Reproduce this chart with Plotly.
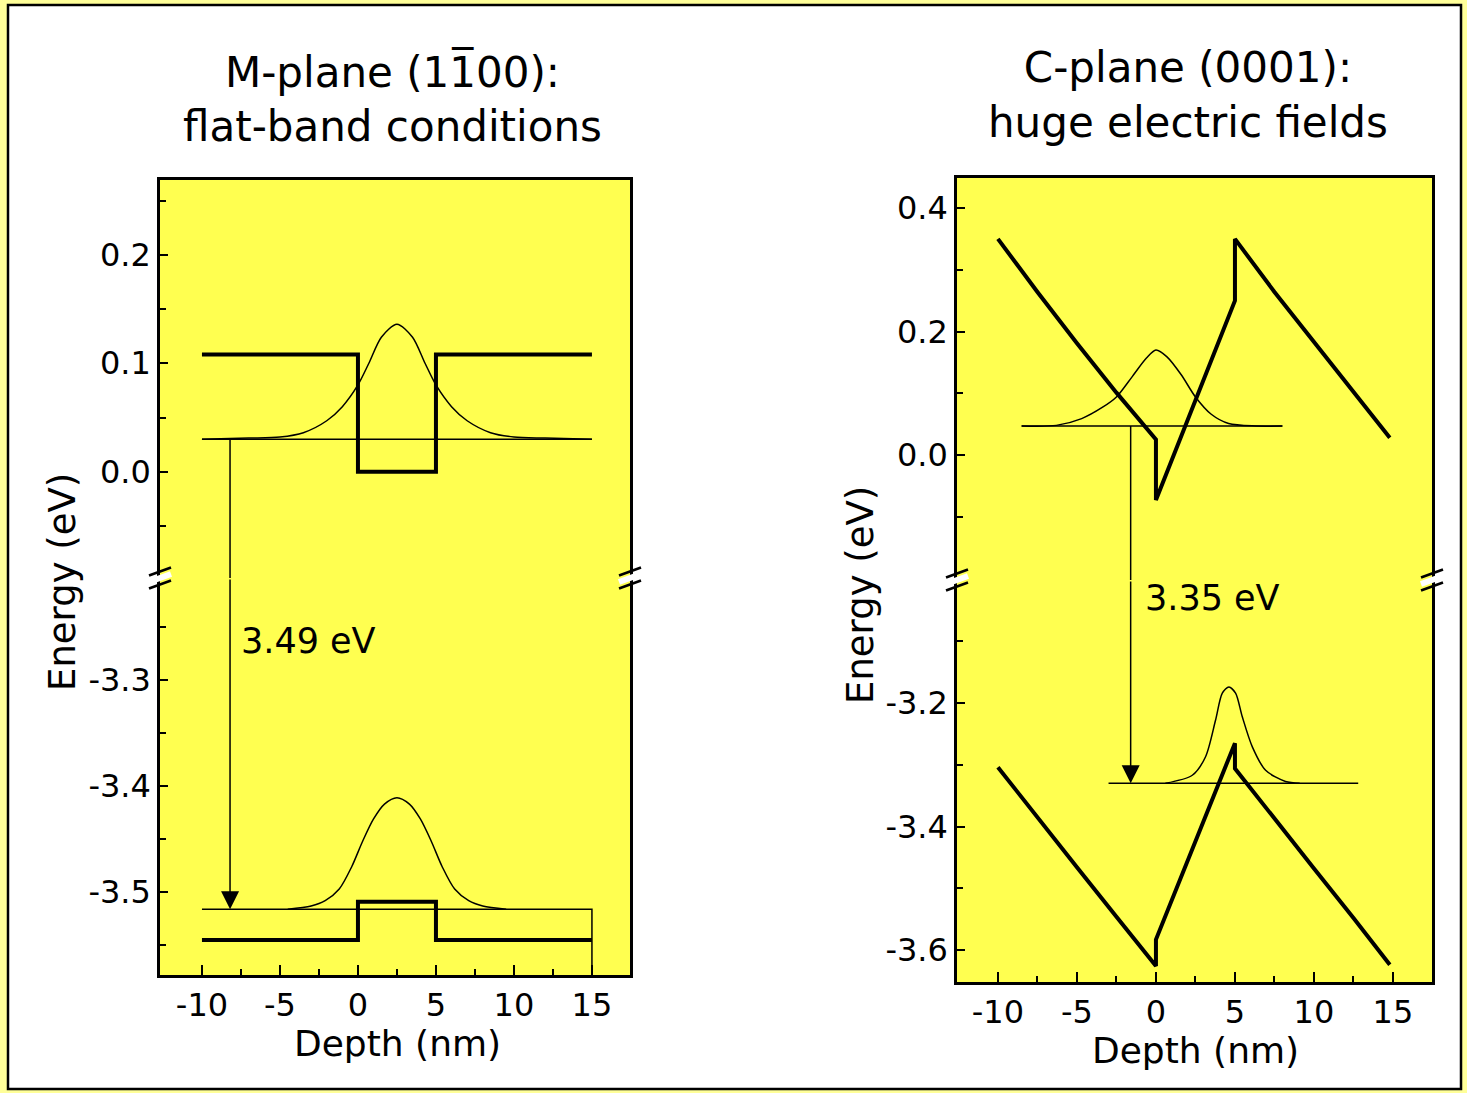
import plotly.graph_objects as go

# ---------------- data ----------------
# M-plane (left panel): flat bands
m_cb_x = [-10, 0, 0, 5, 5, 15]
m_cb_y = [0.108, 0.108, 0.0, 0.0, 0.108, 0.108]
m_e_level_x = [-10, 15]
m_e_level_y = [0.030, 0.030]
m_e_wf_x = [-10, -7, -5, -3.5, -2, -1, 0, 0.7, 1.5, 2.5, 3.5, 4.3, 5, 6, 7, 8.5, 10, 12, 15]
m_e_wf_y = [0.030, 0.031, 0.032, 0.036, 0.047, 0.060, 0.080, 0.100, 0.124, 0.136,
            0.124, 0.100, 0.080, 0.060, 0.047, 0.036, 0.032, 0.031, 0.030]
m_vb_x = [-10, 0, 0, 5, 5, 15]
m_vb_y = [-3.545, -3.545, -3.509, -3.509, -3.545, -3.545]
m_h_level_x = [-10, 15, 15]
m_h_level_y = [-3.516, -3.516, -3.62]
m_h_wf_x = [-4.5, -3, -2.1, -1.2, -0.4, 0.3, 1.0, 1.7, 2.5, 3.3, 4.0, 4.7, 5.4, 6.2, 7.1, 8.0, 9.5]
m_h_wf_y = [-3.516, -3.513, -3.508, -3.497, -3.476, -3.452, -3.431, -3.417, -3.411,
            -3.417, -3.431, -3.452, -3.476, -3.497, -3.508, -3.513, -3.516]
m_arrow_x = -8.2
m_arrow_top = 0.030
m_arrow_bottom = -3.516
m_gap_text = "3.49 eV"
m_gap_pos = (-7.6, -3.263)

# C-plane (right panel): huge electric fields
c_cb_x = [-10, -7.5, -5, -2.5, 0, 0, 5, 5, 7.5, 10, 12.5, 14.8]
c_cb_y = [0.350, 0.264, 0.181, 0.101, 0.025, -0.073, 0.250, 0.350, 0.264, 0.183, 0.103, 0.028]
c_e_level_x = [-8.5, 8.0]
c_e_level_y = [0.047, 0.047]
c_e_wf_x = [-8.5, -6.3, -4.7, -3.4, -2.5, -1.5, -0.6, 0, 0.7, 1.6, 2.5, 3.5, 4.6, 6.3, 8.0]
c_e_wf_y = [0.047, 0.048, 0.059, 0.077, 0.094, 0.127, 0.157, 0.170, 0.159, 0.130,
            0.094, 0.066, 0.051, 0.047, 0.047]
c_vb_x = [-10, -7.5, -5, -2.5, 0, 0, 5, 5, 7.5, 10, 12.5, 14.8]
c_vb_y = [-3.304, -3.386, -3.466, -3.546, -3.626, -3.583, -3.265, -3.306, -3.388,
          -3.468, -3.548, -3.624]
c_h_level_x = [-3.0, 12.8]
c_h_level_y = [-3.330, -3.330]
c_h_wf_x = [0.6, 2.3, 3.14, 3.77, 4.2, 4.62, 5.04, 5.46, 6.1, 6.94, 8.2, 9.1]
c_h_wf_y = [-3.330, -3.317, -3.287, -3.228, -3.184, -3.174, -3.184, -3.222, -3.271,
            -3.309, -3.327, -3.330]
c_arrow_x = -1.6
c_arrow_top = 0.047
c_arrow_bottom = -3.330
c_gap_text = "3.35 eV"
c_gap_pos = (-0.8, -3.03)

# axis settings
x_ticks = [-10, -5, 0, 5, 10, 15]
x_minor = [-7.5, -2.5, 2.5, 7.5, 12.5]
m_x_range = [-12.69, 17.44]
m_yu_range = [-0.098, 0.269]
m_yu_ticks = [0.0, 0.1, 0.2]
m_yu_minor = [-0.05, 0.05, 0.15, 0.25]
m_yl_range = [-3.578, -3.204]
m_yl_ticks = [-3.5, -3.4, -3.3]
m_yl_minor = [-3.55, -3.45, -3.35, -3.25]

c_x_range = [-12.59, 17.47]
c_yu_range = [-0.2024, 0.4486]
c_yu_ticks = [0.0, 0.2, 0.4]
c_yu_minor = [-0.1, 0.1, 0.3]
c_yl_range = [-3.6518, -3.0008]
c_yl_ticks = [-3.6, -3.4, -3.2]
c_yl_minor = [-3.5, -3.3, -3.1]

titles = ["M-plane (11\u030500):<br>flat-band conditions",
          "C-plane (0001):<br>huge electric fields"]
x_title = "Depth (nm)"
y_title = "Energy (eV)"

# ---------------- figure ----------------
W, H = 1467, 1093
FONT = "DejaVu Sans"
PLOT_BG = "#FFFF50"
BORDER = "#FFFF99"
THICK = 4
THIN = 1.5

fig = go.Figure()


def line(x, y, xa, ya, width, spline=False):
    fig.add_trace(go.Scatter(
        x=x, y=y, xaxis=xa, yaxis=ya, mode="lines",
        line=dict(color="black", width=width, shape="spline" if spline else "linear",
                  smoothing=0.8),
        showlegend=False, hoverinfo="skip"))


# left panel traces (upper: x/y, lower: x2/y2)
line(m_cb_x, m_cb_y, "x", "y", THICK)
line(m_e_level_x, m_e_level_y, "x", "y", THIN)
line(m_e_wf_x, m_e_wf_y, "x", "y", THIN, spline=True)
line([m_arrow_x, m_arrow_x], [m_arrow_top, m_yu_range[0]], "x", "y", THIN)
line(m_vb_x, m_vb_y, "x2", "y2", THICK)
line(m_h_level_x, m_h_level_y, "x2", "y2", THIN)
line(m_h_wf_x, m_h_wf_y, "x2", "y2", THIN, spline=True)

# right panel traces (upper: x3/y3, lower: x4/y4)
line(c_cb_x, c_cb_y, "x3", "y3", THICK)
line(c_e_level_x, c_e_level_y, "x3", "y3", THIN)
line(c_e_wf_x, c_e_wf_y, "x3", "y3", THIN, spline=True)
line([c_arrow_x, c_arrow_x], [c_arrow_top, c_yu_range[0]], "x3", "y3", THIN)
line(c_vb_x, c_vb_y, "x4", "y4", THICK)
line(c_h_level_x, c_h_level_y, "x4", "y4", THIN)
line(c_h_wf_x, c_h_wf_y, "x4", "y4", THIN, spline=True)

tick_font = dict(family=FONT, size=32, color="black")


def fmt(v):
    return f"{v:.1f}"


def yaxis(domain, rng, ticks, minor, anchor):
    return dict(domain=domain, range=rng, anchor=anchor,
                tickvals=ticks, ticktext=[fmt(v) for v in ticks],
                ticks="inside", ticklen=8, tickwidth=2, tickcolor="black",
                minor=dict(tickvals=minor, ticks="inside", ticklen=6, tickwidth=2,
                           tickcolor="black", showgrid=False),
                showline=True, linecolor="black", linewidth=2.5, mirror=True,
                showgrid=False, zeroline=False, tickfont=tick_font, fixedrange=True)


def xaxis_bottom(domain, rng, anchor):
    return dict(domain=domain, range=rng, anchor=anchor,
                tickvals=x_ticks, ticktext=[str(v) for v in x_ticks],
                ticks="inside", ticklen=10, tickwidth=2, tickcolor="black",
                minor=dict(tickvals=x_minor, ticks="inside", ticklen=6, tickwidth=2,
                           tickcolor="black", showgrid=False),
                showline=True, linecolor="black", linewidth=2.5, mirror=False,
                showgrid=False, zeroline=False, tickfont=tick_font, fixedrange=True)


def xaxis_top(domain, rng, anchor):
    return dict(domain=domain, range=rng, anchor=anchor, side="top",
                showticklabels=False, ticks="", showline=True, linecolor="black",
                linewidth=2.5, showgrid=False, zeroline=False, fixedrange=True)


# pixel layout (margins are zero, so paper fractions = canvas fractions)
def fx(px):
    return px / W


def fy(py):
    return 1 - py / H


m_xdom = [fx(160), fx(630)]
m_yu_dom = [fy(578), fy(180)]
m_yl_dom = [fy(975), fy(578)]
c_xdom = [fx(957), fx(1432)]
c_yu_dom = [fy(580), fy(178)]
c_yl_dom = [fy(982), fy(580)]

fig.update_layout(
    width=W, height=H,
    margin=dict(l=0, r=0, t=0, b=0),
    paper_bgcolor="white",
    plot_bgcolor=PLOT_BG,
    font=dict(family=FONT, color="black"),
    xaxis=xaxis_top(m_xdom, m_x_range, "y"),
    yaxis=yaxis(m_yu_dom, m_yu_range, m_yu_ticks, m_yu_minor, "x"),
    xaxis2=xaxis_bottom(m_xdom, m_x_range, "y2"),
    yaxis2=yaxis(m_yl_dom, m_yl_range, m_yl_ticks, m_yl_minor, "x2"),
    xaxis3=xaxis_top(c_xdom, c_x_range, "y3"),
    yaxis3=yaxis(c_yu_dom, c_yu_range, c_yu_ticks, c_yu_minor, "x3"),
    xaxis4=xaxis_bottom(c_xdom, c_x_range, "y4"),
    yaxis4=yaxis(c_yl_dom, c_yl_range, c_yl_ticks, c_yl_minor, "x4"),
)

shapes = []
# light-yellow border strips around the page
for x0, x1, y0, y1 in ((0, 8, 0, H), (1461, W, 0, H), (0, W, 0, 5), (0, W, 1089, H)):
    shapes.append(dict(type="rect", xref="paper", yref="paper",
                       x0=fx(x0), x1=fx(x1), y0=fy(y1), y1=fy(y0),
                       fillcolor=BORDER, line=dict(width=0), layer="below"))
# black page frame
shapes.append(dict(type="rect", xref="paper", yref="paper",
                   x0=fx(8), x1=fx(1461), y0=fy(1089), y1=fy(5),
                   line=dict(color="black", width=2.5), layer="below"))

# axis-break marks "//" on both vertical edges of both panels
for xa, ya in (("x2", "y2"), ("x4", "y4")):
    for side in (0, 1):
        common = dict(type="line", xref=f"{xa} domain", yref=f"{ya} domain",
                      xsizemode="pixel", xanchor=side, ysizemode="pixel", yanchor=1,
                      layer="above")
        shapes.append(dict(common, x0=-11, x1=11, y0=-4, y1=4,
                           line=dict(color="white", width=6)))
        for off in (-6.5, 6.5):
            shapes.append(dict(common, x0=-11, x1=11, y0=off - 4, y1=off + 4,
                               line=dict(color="black", width=2.5)))
fig.update_layout(shapes=shapes)

ann = []
# gap arrows (lower part, with head) and labels
for xa, ya, ax_x, top, bottom, txt, pos in (
        ("x2", "y2", m_arrow_x, m_yl_range[1], m_arrow_bottom, m_gap_text, m_gap_pos),
        ("x4", "y4", c_arrow_x, c_yl_range[1], c_arrow_bottom, c_gap_text, c_gap_pos)):
    ann.append(dict(x=ax_x, y=bottom, xref=xa, yref=ya, ax=ax_x, ay=top,
                    axref=xa, ayref=ya, text="", showarrow=True, arrowhead=2,
                    arrowsize=2.4, arrowwidth=1.5, arrowcolor="black", standoff=0))
    ann.append(dict(x=pos[0], y=pos[1], xref=xa, yref=ya, text=txt, showarrow=False,
                    xanchor="left", yanchor="middle",
                    font=dict(family=FONT, size=35, color="black")))

# panel titles
ann.append(dict(x=fx(392), y=fy(99), xref="paper", yref="paper", text=titles[0],
                showarrow=False, xanchor="center", yanchor="middle",
                font=dict(family=FONT, size=42, color="black")))
ann.append(dict(x=fx(1188), y=fy(95), xref="paper", yref="paper", text=titles[1],
                showarrow=False, xanchor="center", yanchor="middle",
                font=dict(family=FONT, size=42, color="black")))
# axis titles
for cx, cy in ((397, 1043), (1195, 1050)):
    ann.append(dict(x=fx(cx), y=fy(cy), xref="paper", yref="paper", text=x_title,
                    showarrow=False, xanchor="center", yanchor="middle",
                    font=dict(family=FONT, size=36, color="black")))
for cx, cy in ((62, 582), (860, 595)):
    ann.append(dict(x=fx(cx), y=fy(cy), xref="paper", yref="paper", text=y_title,
                    showarrow=False, xanchor="center", yanchor="middle", textangle=-90,
                    font=dict(family=FONT, size=37, color="black")))
fig.update_layout(annotations=ann)

fig.write_html("out.html")
